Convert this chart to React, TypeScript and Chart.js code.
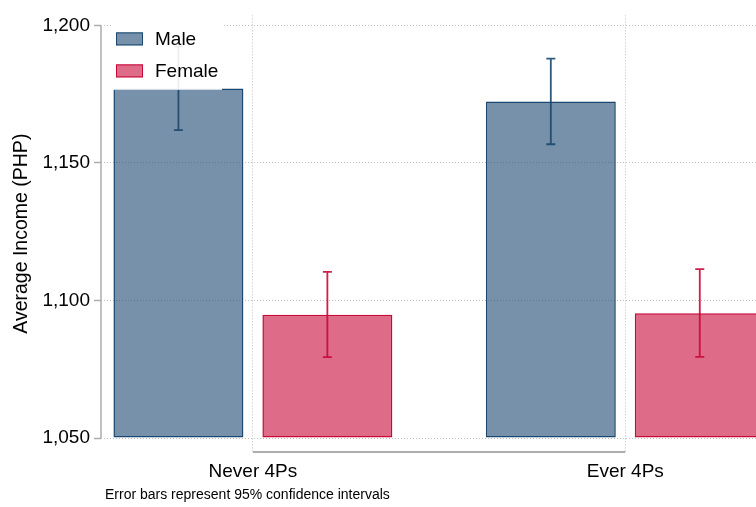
import React, { useEffect, useRef } from "react";
import { Chart, registerables } from "chart.js";

Chart.register(...registerables);

// ---- data ----
const groups = ["Never 4Ps", "Ever 4Ps"];
const groupPositions = [1, 2];
const seriesNames = ["Male", "Female"];
const maleMean = [1177.1, 1172.3];
const maleLow = [1161.9, 1156.8];
const maleHigh = [1192.3, 1187.9];
const femaleMean = [1094.8, 1095.4];
const femaleLow = [1079.4, 1079.5];
const femaleHigh = [1110.4, 1111.4];
const yTicks = [1050, 1100, 1150, 1200];
const yTitle = "Average Income (PHP)";
const footNote = "Error bars represent 95% confidence intervals";

const FONT = '"Liberation Sans", Arial, sans-serif';
const NAVY = "rgb(26,71,111)";
const NAVY_FILL = "rgba(26,71,111,0.6)";
const CRIMSON = "rgb(200,8,55)";
const CRIMSON_FILL = "rgba(200,8,55,0.6)";

const lows = [maleLow, femaleLow];
const highs = [maleHigh, femaleHigh];
const fills = [NAVY_FILL, CRIMSON_FILL];
const strokes = [NAVY, CRIMSON];

const decorPlugin = {
  id: "decor",
  beforeDatasetsDraw(chart: any) {
    const { ctx, chartArea, scales } = chart;
    const x = scales.x;
    const y = scales.y;
    ctx.save();
    ctx.strokeStyle = "#adadad";
    ctx.lineWidth = 1.5;
    ctx.beginPath();
    ctx.moveTo(chartArea.left, y.getPixelForValue(yTicks[0]));
    ctx.lineTo(chartArea.left, y.getPixelForValue(yTicks[yTicks.length - 1]));
    ctx.stroke();
    ctx.lineWidth = 2;
    ctx.beginPath();
    ctx.moveTo(x.getPixelForValue(groupPositions[0]), chartArea.bottom);
    ctx.lineTo(x.getPixelForValue(groupPositions[groupPositions.length - 1]), chartArea.bottom);
    ctx.stroke();
    ctx.restore();
  },
  afterDatasetsDraw(chart: any) {
    const { ctx, scales } = chart;
    const y = scales.y;
    ctx.save();
    chart.data.datasets.forEach((_ds: any, i: number) => {
      const meta = chart.getDatasetMeta(i);
      meta.data.forEach((el: any, j: number) => {
        const cx = el.x;
        const yl = y.getPixelForValue(lows[i][j]);
        const yh = y.getPixelForValue(highs[i][j]);
        ctx.strokeStyle = strokes[i];
        ctx.globalAlpha = 0.9;
        ctx.lineWidth = 1.8;
        ctx.beginPath();
        ctx.moveTo(cx, yl);
        ctx.lineTo(cx, yh);
        ctx.moveTo(cx - 4.5, yl);
        ctx.lineTo(cx + 4.5, yl);
        ctx.moveTo(cx - 4.5, yh);
        ctx.lineTo(cx + 4.5, yh);
        ctx.stroke();
      });
    });
    ctx.restore();
  },
  afterDraw(chart: any) {
    const { ctx, chartArea } = chart;
    ctx.save();
    // legend
    const lx = chartArea.left + 12;
    const ly = chartArea.top + 3;
    ctx.fillStyle = "rgba(255,255,255,0.9)";
    ctx.fillRect(lx, ly, 109, 71.5);
    seriesNames.forEach((name, i) => {
      const sy = ly + 14 + i * 32;
      ctx.fillStyle = fills[i];
      ctx.fillRect(lx + 3, sy, 27, 13);
      ctx.strokeStyle = strokes[i];
      ctx.lineWidth = 1;
      ctx.strokeRect(lx + 3.5, sy + 0.5, 26, 12);
      ctx.fillStyle = "#000";
      ctx.font = `19px ${FONT}`;
      ctx.textBaseline = "middle";
      ctx.textAlign = "left";
      ctx.fillText(name, lx + 42, sy + 7.5);
    });
    // footnote
    ctx.fillStyle = "#000";
    ctx.font = `14px ${FONT}`;
    ctx.textBaseline = "middle";
    ctx.textAlign = "left";
    ctx.fillText(footNote, 105, 495);
    ctx.restore();
  },
};

export default function App() {
  const ref = useRef<HTMLCanvasElement>(null);
  useEffect(() => {
    if (!ref.current) return;
    const chart = new Chart(ref.current, {
      type: "bar",
      data: {
        datasets: [
          {
            label: seriesNames[0],
            data: groupPositions.map((p, i) => ({ x: p, y: maleMean[i] })),
            backgroundColor: NAVY_FILL,
            borderColor: NAVY,
            borderWidth: 1.5,
            borderSkipped: false,
            base: 1050,
          } as any,
          {
            label: seriesNames[1],
            data: groupPositions.map((p, i) => ({ x: p, y: femaleMean[i] })),
            backgroundColor: CRIMSON_FILL,
            borderColor: CRIMSON,
            borderWidth: 1.5,
            borderSkipped: false,
            base: 1050,
          } as any,
        ],
      },
      options: {
        animation: false,
        responsive: false,
        layout: { padding: { top: 15, left: 0, right: 0, bottom: 0 } },
        datasets: { bar: { categoryPercentage: 0.8, barPercentage: 0.8725 } },
        plugins: { legend: { display: false }, tooltip: { enabled: false } },
        scales: {
          x: {
            type: "linear",
            min: 0.5921,
            max: 2.351,
            offset: false,
            bounds: "data",
            afterBuildTicks: (s: any) => {
              s.ticks = groupPositions.map((v) => ({ value: v }));
            },
            afterFit: (s: any) => {
              s.height = 55;
            },
            ticks: {
              autoSkip: false,
              maxRotation: 0,
              padding: 8,
              color: "#000",
              font: { family: FONT, size: 19 },
              callback: (v: any) => {
                const k = groupPositions.indexOf(Number(v));
                return k >= 0 ? groups[k] : "";
              },
            },
            grid: { offset: false, color: "rgba(150,150,150,0.6)", lineWidth: 1, drawTicks: false },
            border: { display: false, dash: [1, 2] },
          } as any,
          y: {
            type: "linear",
            min: 1044.92,
            max: 1203.63,
            beginAtZero: false,
            bounds: "data",
            afterBuildTicks: (s: any) => {
              s.ticks = yTicks.map((v) => ({ value: v }));
            },
            afterFit: (s: any) => {
              s.width = 101;
            },
            ticks: {
              padding: 4,
              color: "#000",
              font: { family: FONT, size: 19 },
              callback: (v: any) => Number(v).toLocaleString("en-US"),
            },
            title: {
              display: true,
              text: yTitle,
              color: "#000",
              font: { family: FONT, size: 19.5, lineHeight: 1 },
              padding: { top: 12, bottom: 0 },
            },
            grid: {
              color: "rgba(150,150,150,0.6)",
              lineWidth: 1,
              drawTicks: true,
              tickLength: 7,
              tickColor: "#adadad",
              tickWidth: 1.5,
              tickBorderDash: [],
            },
            border: { display: false, dash: [1, 2] },
          } as any,
        },
      },
      plugins: [decorPlugin],
    });
    return () => chart.destroy();
  }, []);
  return (
    <div style={{ position: "fixed", left: 0, top: 0, width: 756, height: 507, background: "#fff", overflow: "hidden" }}>
      <canvas ref={ref} width={756} height={507} style={{ display: "block" }} />
    </div>
  );
}
